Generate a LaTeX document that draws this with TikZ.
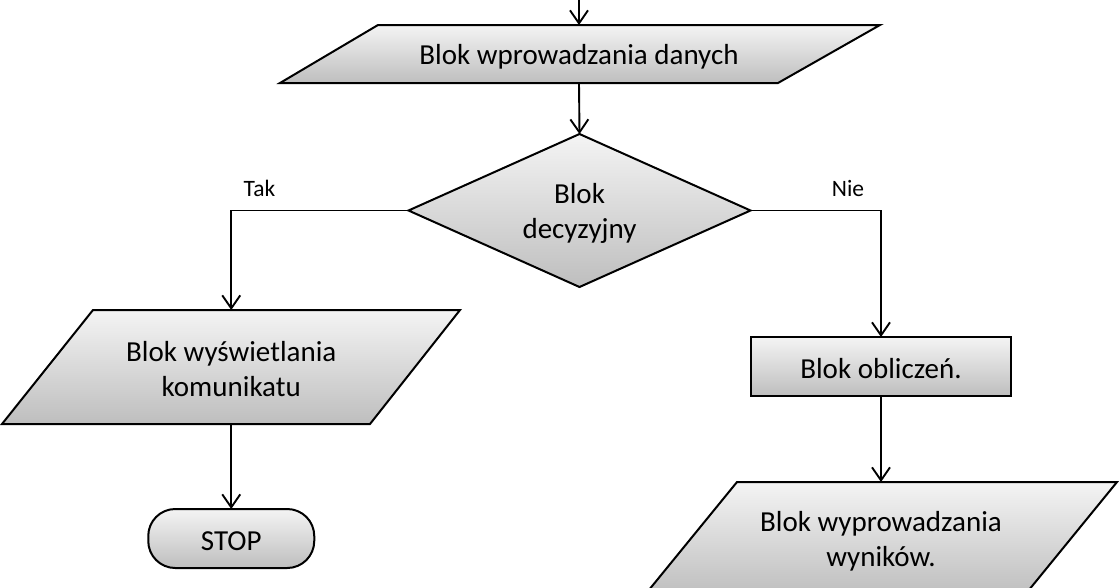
\documentclass[tikz,border=0pt]{standalone}
\usepackage{fontspec}
\setmainfont{Carlito}
\usetikzlibrary{arrows.meta,shapes.geometric}
\definecolor{gtop}{RGB}{244,244,244}
\definecolor{gbot}{RGB}{190,190,190}
\newcommand{\tstrut}{\rule{0pt}{25pt}}
\begin{document}
\begin{tikzpicture}[x=1pt,y=-1pt,
  shapeline/.style={draw=black,line width=2pt,line join=miter,top color=gtop,bottom color=gbot},
  txt/.style={inner sep=0pt,outer sep=0pt,align=center,font=\fontsize{29}{35}\selectfont},
  conn/.style={line width=1.9pt,-{Straight Barb[length=13pt,width=18pt,line width=1.9pt]}},
  lbl/.style={font=\fontsize{23.5}{28}\selectfont,anchor=base,inner sep=0pt}]
\useasboundingbox (0,0) rectangle (1119,587);
\clip (0,0) rectangle (1119,587);
% shapes drawn directly
\path[shapeline] (378,25) -- (880,25) -- (778,83) -- (280,83) -- cycle;
\path[shapeline] (93,310) -- (460,310) -- (370,424) -- (2,424) -- cycle;
\path[shapeline] (737,482) -- (1117,482) -- (1024,596) -- (644,596) -- cycle;
% text nodes
\node[txt,minimum height=58pt,minimum width=300pt] (in1) at (579,54) {\tstrut Blok wprowadzania danych};
\node[diamond,shapeline,txt,shape aspect=2.2,minimum width=342pt,minimum height=153pt] (dec) at (579.5,210.5) {\tstrut Blok\\decyzyjny};
\node[txt,minimum height=114pt,minimum width=250pt] (dl) at (231.25,367) {\tstrut Blok wyświetlania\\komunikatu};
\node[shapeline,txt,rounded corners=27pt,minimum width=166pt,minimum height=59pt] (stop) at (231.25,538.5) {\tstrut STOP};
\node[shapeline,txt,minimum width=260pt,minimum height=59pt] (calc) at (881,366.5) {\tstrut Blok obliczeń.};
\node[txt,minimum height=114pt,minimum width=250pt] (out) at (881,539) {\tstrut Blok wyprowadzania\\wyników.};
\coordinate (start) at (579,0);
% connectors
\draw[conn] (start) -- (in1.north);
\draw[conn] (in1.south) -- (dec.north);
\draw[conn] (dec.west) -| (dl.north);
\draw[conn] (dec.east) -| (calc.north);
\draw[conn] (dl.south) -- (stop.north);
\draw[conn] (calc.south) -- (out.north);
% labels
\node[lbl] (tak) at (259.5,196) {Tak};
\node[lbl] (nie) at (848,196) {Nie};
\end{tikzpicture}
\end{document}
